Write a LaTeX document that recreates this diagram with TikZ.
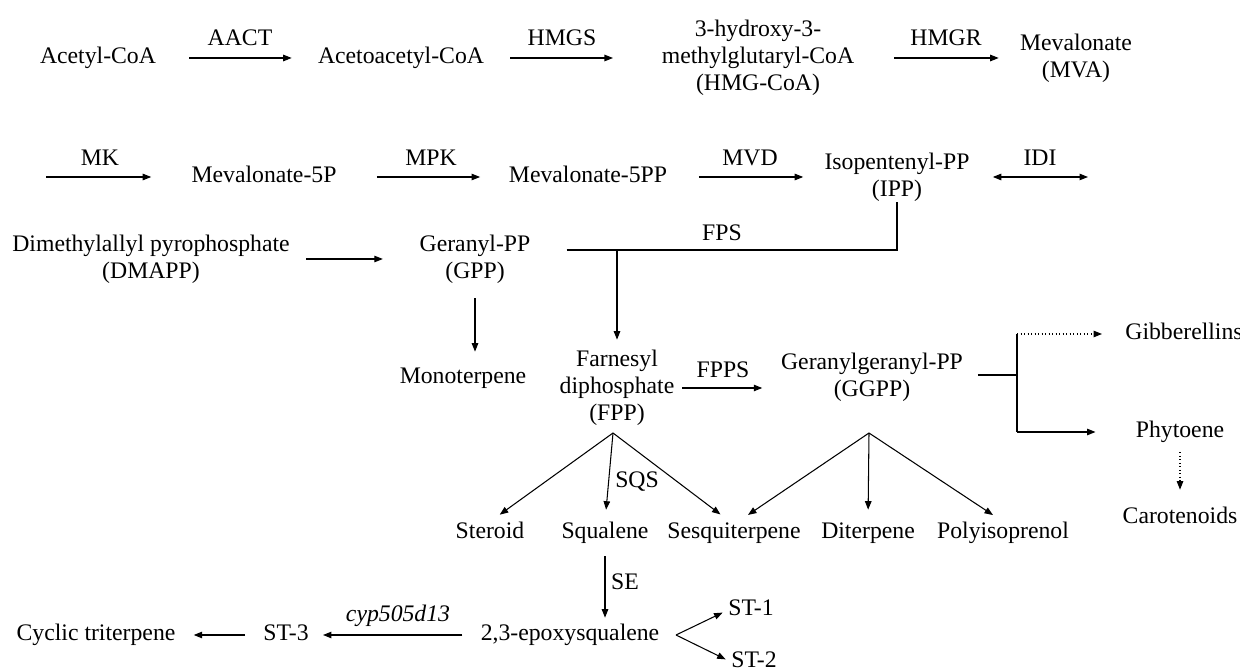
\documentclass[tikz,border=0pt]{standalone}
\usepackage{fontspec}
\setmainfont{Liberation Serif}
\usetikzlibrary{arrows.meta}
\begin{document}
\begin{tikzpicture}[x=0.02cm,y=-0.02cm,
    every node/.style={inner sep=0pt,align=center,font=\fontsize{13.5}{15.5}\selectfont},
    one/.style={text height=9.5pt,text depth=3pt},
    arr/.style={-{Triangle[length=1.7mm,width=1.3mm]},line width=0.6pt},
    dotarr/.style={arr,dash pattern=on 0.6pt off 1.4pt}]
  \useasboundingbox (0,0) rectangle (1240,671);
  \draw
    (98,58) node[one] (acetyl){Acetyl-CoA}
    (401,58) node[one] (acac){Acetoacetyl-CoA}
    (758,58) node (hmg){3-hydroxy-3-\\methylglutaryl-CoA\\(HMG-CoA)}
    (1076,58) node (mva){Mevalonate\\(MVA)}
    (240,40) node[one] (aact){AACT}
    (562,40) node[one] (hmgs){HMGS}
    (946,40) node[one] (hmgr){HMGR};
  \draw
    (264,177) node[one] (mev5p){Mevalonate-5P}
    (588,177) node[one] (mev5pp){Mevalonate-5PP}
    (897,177) node (ipp){Isopentenyl-PP\\(IPP)}
    (100,160) node[one] (mk){MK}
    (431,160) node[one] (mpk){MPK}
    (750,160) node[one] (mvd){MVD}
    (1040,160) node[one] (idi){IDI};
  \coordinate (mkin) at (46,177);
  \coordinate (idiout) at (1088,177);
  \draw
    (151,259) node (dmapp){Dimethylallyl pyrophosphate\\(DMAPP)}
    (475,259) node (gpp){Geranyl-PP\\(GPP)}
    (722,235) node[one] (fps){FPS}
    (463,378) node[one] (mono){Monoterpene}
    (617,388) node (fpp){Farnesyl\\diphosphate\\(FPP)}
    (723,372) node[one] (fpps){FPPS}
    (872,377) node (ggpp){Geranylgeranyl-PP\\(GGPP)}
    (1184,334) node[one] (gib){Gibberellins}
    (1180,432) node[one] (phyt){Phytoene}
    (1180,518) node[one] (carot){Carotenoids};
  \coordinate (fpsjoin) at (617,250);
  \coordinate (branch) at (1017,375);
  \draw
    (490,533) node[one] (steroid){Steroid}
    (605,533) node[one] (squalene){Squalene}
    (734,533) node[one] (sesq){Sesquiterpene}
    (868,533) node[one] (diterp){Diterpene}
    (1003,533) node[one] (polyiso){Polyisoprenol}
    (637,482) node[one] (sqs){SQS}
    (625,584) node[one] (se){SE};
  \coordinate (fppfan) at (613,433);
  \coordinate (ggppfan) at (869,433);
  \draw
    (570,635) node[one] (epoxy){2,3-epoxysqualene}
    (751,610) node[one] (st1){ST-1}
    (754,662) node[one] (st2){ST-2}
    (286,635) node[one] (st3){ST-3}
    (96,635) node[one] (cyc){Cyclic triterpene}
    (398,616) node[one] (cyp){\textit{cyp505d13}};
  \coordinate (fork) at (676,635);
  \begin{scope}[arr]
    \draw[shorten <=0.66cm,shorten >=0.52cm] (acetyl) -- (acac);
    \draw[shorten <=0.52cm,shorten >=0.97cm] (acac) -- (hmg);
    \draw[shorten <=0.79cm,shorten >=0.42cm] (hmg) -- (mva);
    \draw[shorten >=0.8cm] (mkin) -- (mev5p);
    \draw[shorten <=0.8cm,shorten >=0.57cm] (mev5p) -- (mev5pp);
    \draw[shorten <=0.63cm,shorten >=0.42cm] (mev5pp) -- (ipp);
    \draw[{Triangle[length=1.7mm,width=1.3mm]}-{Triangle[length=1.7mm,width=1.3mm]},shorten <=0.46cm] (ipp) -- (idiout);
    \draw[shorten <=0.32cm,shorten >=0.73cm] (dmapp) -- (gpp);
    \draw[shorten >=0.2cm] (fpsjoin) -- (fpp);
    \draw[shorten <=0.29cm,shorten >=0.3cm] (gpp.south) -- (gpp.south |- mono.north);
    \draw[shorten <=0.15cm,shorten >=0.37cm] (fpp.east) -- (fpp.east -| ggpp.west);
    \draw[shorten >=0.8cm] (branch |- phyt) -- (phyt);
    \draw[shorten >=0.24cm] (fppfan) -- (steroid.north);
    \draw[shorten >=0.24cm] (fppfan) -- (squalene.north);
    \draw[shorten >=0.24cm] (fppfan) -- ([xshift=-0.08cm]sesq.north);
    \draw[shorten >=0.24cm] (ggppfan) -- ([xshift=0.08cm]sesq.north);
    \draw[shorten >=0.24cm] (ggppfan) -- (diterp.north);
    \draw[shorten >=0.24cm] (ggppfan) -- (polyiso.north);
    \draw[shorten <=0.24cm,shorten >=0.12cm] (squalene.south) -- (squalene.south |- epoxy.north);
    \draw[shorten >=0.12cm] (fork) -- (st1.west);
    \draw[shorten >=0.12cm] (fork) -- (st2.west);
    \draw[shorten <=0.36cm,shorten >=0.28cm] (epoxy) -- (st3);
    \draw[shorten <=0.36cm,shorten >=0.36cm] (st3) -- (cyc);
  \end{scope}
  \begin{scope}[line width=0.6pt]
    \draw[shorten <=0.72cm] (gpp.east |- fpsjoin) -- (ipp.south |- fpsjoin) -- (ipp.south);
    \draw[shorten <=0.29cm] (ggpp.east |- branch) -- (branch);
    \draw (branch |- gib) -- (branch |- phyt);
    \draw[dotarr,shorten >=0.46cm] (branch |- gib) -- (gib);
    \draw[dotarr,shorten <=0.18cm,shorten >=0.34cm] (phyt) -- (carot);
  \end{scope}
\end{tikzpicture}
\end{document}
